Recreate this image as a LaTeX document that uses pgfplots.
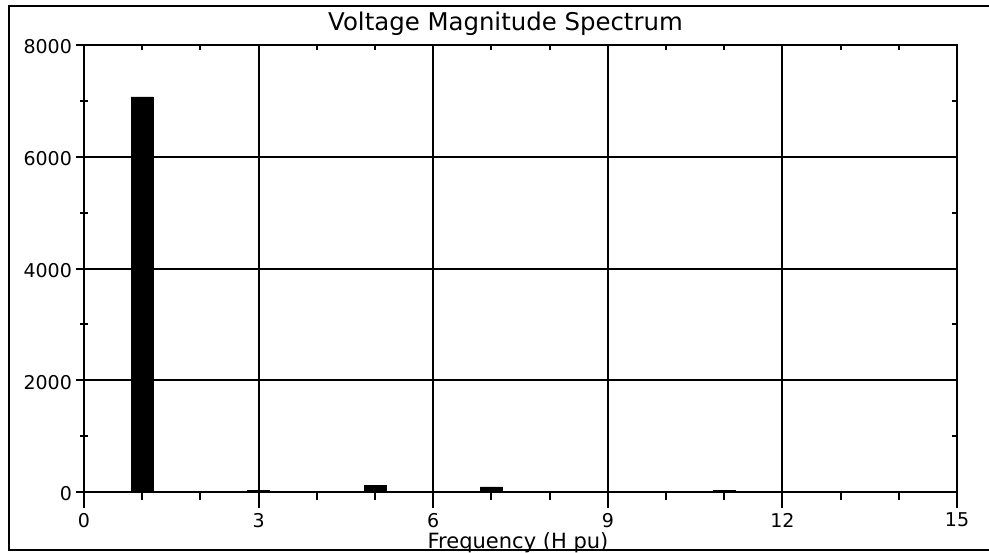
\documentclass[border=0pt]{standalone}
\usepackage{fontspec}
\setmainfont{DejaVu Sans}
\usepackage{pgfplots}
\pgfplotsset{compat=1.18}
\begin{document}
\begin{tikzpicture}
\useasboundingbox (0pt,0pt) rectangle (494.5pt,276pt);
\begin{axis}[
  at={(42pt,30pt)}, anchor=south west,
  scale only axis, width=436.5pt, height=223.5pt,
  xmin=0, xmax=15, ymin=0, ymax=8000,
  xtick={0,3,6,9,12,15}, ytick={0,2000,4000,6000,8000},
  minor x tick num=2, minor y tick num=1,
  tick pos=left, tick align=center,
  major tick length=8pt, minor tick length=4pt,
  every tick/.style={black, line width=1pt},
  grid=major, major grid style={black, line width=1pt},
  axis line style={line width=1pt},
  /pgf/number format/assume math mode=true,
  /pgf/number format/1000 sep={},
  ticklabel style={font=\fontsize{9.5}{10}\selectfont},
  xticklabel style={yshift=1pt},
  yticklabel style={xshift=1.5pt, yshift=-1pt},
  ybar, bar width=11pt,
]
\addplot[fill=black, draw=black] coordinates {(1,7070) (3,20) (5,125) (7,90) (11,25) (13,15)};
\end{axis}
\begin{axis}[
  at={(42pt,30pt)}, anchor=south west,
  scale only axis, width=436.5pt, height=223.5pt,
  xmin=0, xmax=15, ymin=0, ymax=8000,
  xtick={0,3,...,15}, ytick={0,2000,...,8000},
  minor x tick num=2, minor y tick num=1,
  tick pos=right, tick align=inside,
  major tick length=0pt, minor tick length=2.5pt,
  xticklabels={}, yticklabels={},
  every tick/.style={black, line width=1pt},
  axis line style={line width=1pt},
]
\addplot[draw=none] coordinates {(0,0)};
\end{axis}
\node[anchor=base, font=\fontsize{12.2}{14}\selectfont] at (252.75pt,260.5pt) {Voltage Magnitude Spectrum};
\node[anchor=base, font=\fontsize{10.5}{12}\selectfont] at (259pt,2pt) {Frequency (H pu)};
\draw[line width=1pt] (494.5pt,273pt) -- (4.25pt,273pt) -- (4.25pt,1pt) -- (494.5pt,1pt);
\end{tikzpicture}
\end{document}
